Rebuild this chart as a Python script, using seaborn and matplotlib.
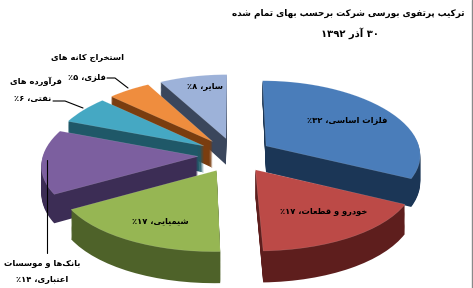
import numpy as np
import matplotlib
matplotlib.use("Agg")
import matplotlib.pyplot as plt
import seaborn as sns
from matplotlib.lines import Line2D
from matplotlib.transforms import Transform
from matplotlib.path import Path

# ---------------- data ----------------
categories = ["فلزات اساسی", "خودرو و قطعات", "شیمیایی",
              "بانک‌ها و موسسات\nاعتباری", "فرآورده های\nنفتی",
              "استخراج کانه های\nفلزی", "سایر"]
shares = [32, 17, 17, 14, 6, 5, 8]
title_lines = ["ترکیب پرتفوی بورسی شرکت برحسب بهای تمام شده", "۳۰ آذر ۱۳۹۲"]

top_colors = ["#4A7DBA", "#BC4A47", "#96B653", "#7C5F9F", "#45A8C3", "#EF8D3E", "#9DB2D9"]
side_colors = ["#1B3656", "#5E1E1D", "#4E6229", "#3C2D55", "#1F5868", "#7A3D0F", "#3A465C"]

# ------------- minimal Persian shaping -------------
F = {
    '\u0627': ('\uFE8D', '\uFE8E', None, None),
    '\u0622': ('\uFE81', '\uFE82', None, None),
    '\u0628': ('\uFE8F', '\uFE90', '\uFE91', '\uFE92'),
    '\u067E': ('\uFB56', '\uFB57', '\uFB58', '\uFB59'),
    '\u062A': ('\uFE95', '\uFE96', '\uFE97', '\uFE98'),
    '\u062C': ('\uFE9D', '\uFE9E', '\uFE9F', '\uFEA0'),
    '\u062D': ('\uFEA1', '\uFEA2', '\uFEA3', '\uFEA4'),
    '\u062E': ('\uFEA5', '\uFEA6', '\uFEA7', '\uFEA8'),
    '\u062F': ('\uFEA9', '\uFEAA', None, None),
    '\u0630': ('\uFEAB', '\uFEAC', None, None),
    '\u0631': ('\uFEAD', '\uFEAE', None, None),
    '\u0632': ('\uFEAF', '\uFEB0', None, None),
    '\u0633': ('\uFEB1', '\uFEB2', '\uFEB3', '\uFEB4'),
    '\u0634': ('\uFEB5', '\uFEB6', '\uFEB7', '\uFEB8'),
    '\u0637': ('\uFEC1', '\uFEC2', '\uFEC3', '\uFEC4'),
    '\u0639': ('\uFEC9', '\uFECA', '\uFECB', '\uFECC'),
    '\u0641': ('\uFED1', '\uFED2', '\uFED3', '\uFED4'),
    '\u0642': ('\uFED5', '\uFED6', '\uFED7', '\uFED8'),
    '\u06A9': ('\uFB8E', '\uFB8F', '\uFB90', '\uFB91'),
    '\u0643': ('\uFB8E', '\uFB8F', '\uFB90', '\uFB91'),
    '\u0644': ('\uFEDD', '\uFEDE', '\uFEDF', '\uFEE0'),
    '\u0645': ('\uFEE1', '\uFEE2', '\uFEE3', '\uFEE4'),
    '\u0646': ('\uFEE5', '\uFEE6', '\uFEE7', '\uFEE8'),
    '\u0647': ('\uFEE9', '\uFEEA', '\uFEEB', '\uFEEC'),
    '\u0648': ('\uFEED', '\uFEEE', None, None),
    '\u06CC': ('\uFBFC', '\uFBFD', '\uFBFE', '\uFBFF'),
    '\u064A': ('\uFBFC', '\uFBFD', '\uFBFE', '\uFBFF'),
}
DIGITS = set("۰۱۲۳۴۵۶۷۸۹0123456789")


def shape(s):
    out = []
    for i, ch in enumerate(s):
        f = F.get(ch)
        if f is None:
            out.append(ch)
            continue
        prev = s[i - 1] if i > 0 else None
        nxt = s[i + 1] if i + 1 < len(s) else None
        cp = prev in F and F[prev][2] is not None
        cn = nxt in F and f[2] is not None
        if cp and cn:
            out.append(f[3])
        elif cp:
            out.append(f[1])
        elif cn:
            out.append(f[2])
        else:
            out.append(f[0])
    return "".join(c for c in out if c != "\u200c")


def visual(s):
    t = shape(s)
    runs = []
    for ch in t:
        d = ch in DIGITS
        if runs and runs[-1][0] == d:
            runs[-1][1].append(ch)
        else:
            runs.append((d, [ch]))
    return "".join("".join(c) if d else "".join(reversed(c)) for d, c in reversed(runs))


def fa_num(v):
    return str(v).translate(str.maketrans("0123456789", "۰۱۲۳۴۵۶۷۸۹"))


# ------------- 3-D tilt (perspective) of the pie plane -------------
W, H = 473, 288
CX, CY = 235, 155          # centre of the top face in pixels (y down)
A_, B_ = 0.469, 0.00025     # vertical foreshortening (+ perspective)
C_ = 0.0007                 # horizontal perspective
D_ = 0.0009                 # thickness perspective


class Tilt(Transform):
    input_dims = output_dims = 2
    is_separable = False
    has_inverse = False

    def __init__(self, drop=0.0):
        super().__init__()
        self.drop = drop

    def transform_non_affine(self, xy):
        xy = np.asarray(xy, float)
        u = xy[:, 0]
        v = -xy[:, 1]
        x = CX + u * (1 + C_ * v)
        y = CY + A_ * v + B_ * v * v + self.drop * (1 + D_ * v)
        return np.column_stack([x, y])

    def transform_path_non_affine(self, path):
        polys = path.to_polygons(closed_only=True)
        paths = [Path(self.transform_non_affine(p), closed=True) for p in polys]
        return Path.make_compound_path(*paths)


# ---------------- figure ----------------
sns.set_theme(style="white")
plt.rcParams["font.family"] = ["DejaVu Sans"]

fig = plt.figure(figsize=(W / 100, H / 100), dpi=100)
ax = fig.add_axes([0, 0, 1, 1])
ax.set_xlim(0, W)
ax.set_ylim(H, 0)

R = 155
DEPTH = 27
explode = [37] * len(shares)


def draw_pie(colors, drop, **wp):
    wedges, _ = ax.pie(shares, explode=explode, startangle=90, counterclock=False,
                       radius=R, center=(0, 0), colors=sns.color_palette(colors),
                       wedgeprops=wp, frame=True)
    tr = Tilt(drop) + ax.transData
    for w in wedges:
        w.set_transform(tr)


for off in np.arange(DEPTH, 0, -1.0):
    draw_pie(side_colors, off, linewidth=0)
draw_pie(top_colors, 0.0, linewidth=0.4, edgecolor="#ffffff30")

ax.set_aspect("auto")
ax.set_xlim(0, W)
ax.set_ylim(H, 0)
ax.axis("off")


def ftext(x, y, s, size):
    fig.text(x / W, 1 - y / H, visual(s), ha="center", va="center",
             fontsize=size, fontweight="bold", color="black")


# title
ftext(348, 13, title_lines[0], 6.4)
ftext(350, 33, title_lines[1], 7.2)

# data labels (one entry per text line, positioned per slice)
label_pos = [[(347, 120)], [(324, 211)], [(160, 221)],
             [(42, 263), (42, 279)], [(36, 81), (33, 99)],
             [(87, 57), (87, 77)], [(205, 87)]]
for name, v, pos in zip(categories, shares, label_pos):
    lines = (name + "، " + fa_num(v) + "٪").split("\n")
    for ln, (x, y) in zip(lines, pos):
        ftext(x, y, ln, 6.0)


def fline(xs, ys):
    fig.add_artist(Line2D([x / W for x in xs], [1 - y / H for y in ys],
                          color="black", lw=0.8))


# leader lines
fline([107, 115, 128], [78, 78, 88])
fline([53, 65, 83], [101, 101, 108])
fline([47, 47], [160, 253])

# right frame edge
fig.add_artist(Line2D([471.5 / W, 471.5 / W], [0, 1], color="#8a8a8a", lw=1))

fig.savefig("out.png", dpi=100)
